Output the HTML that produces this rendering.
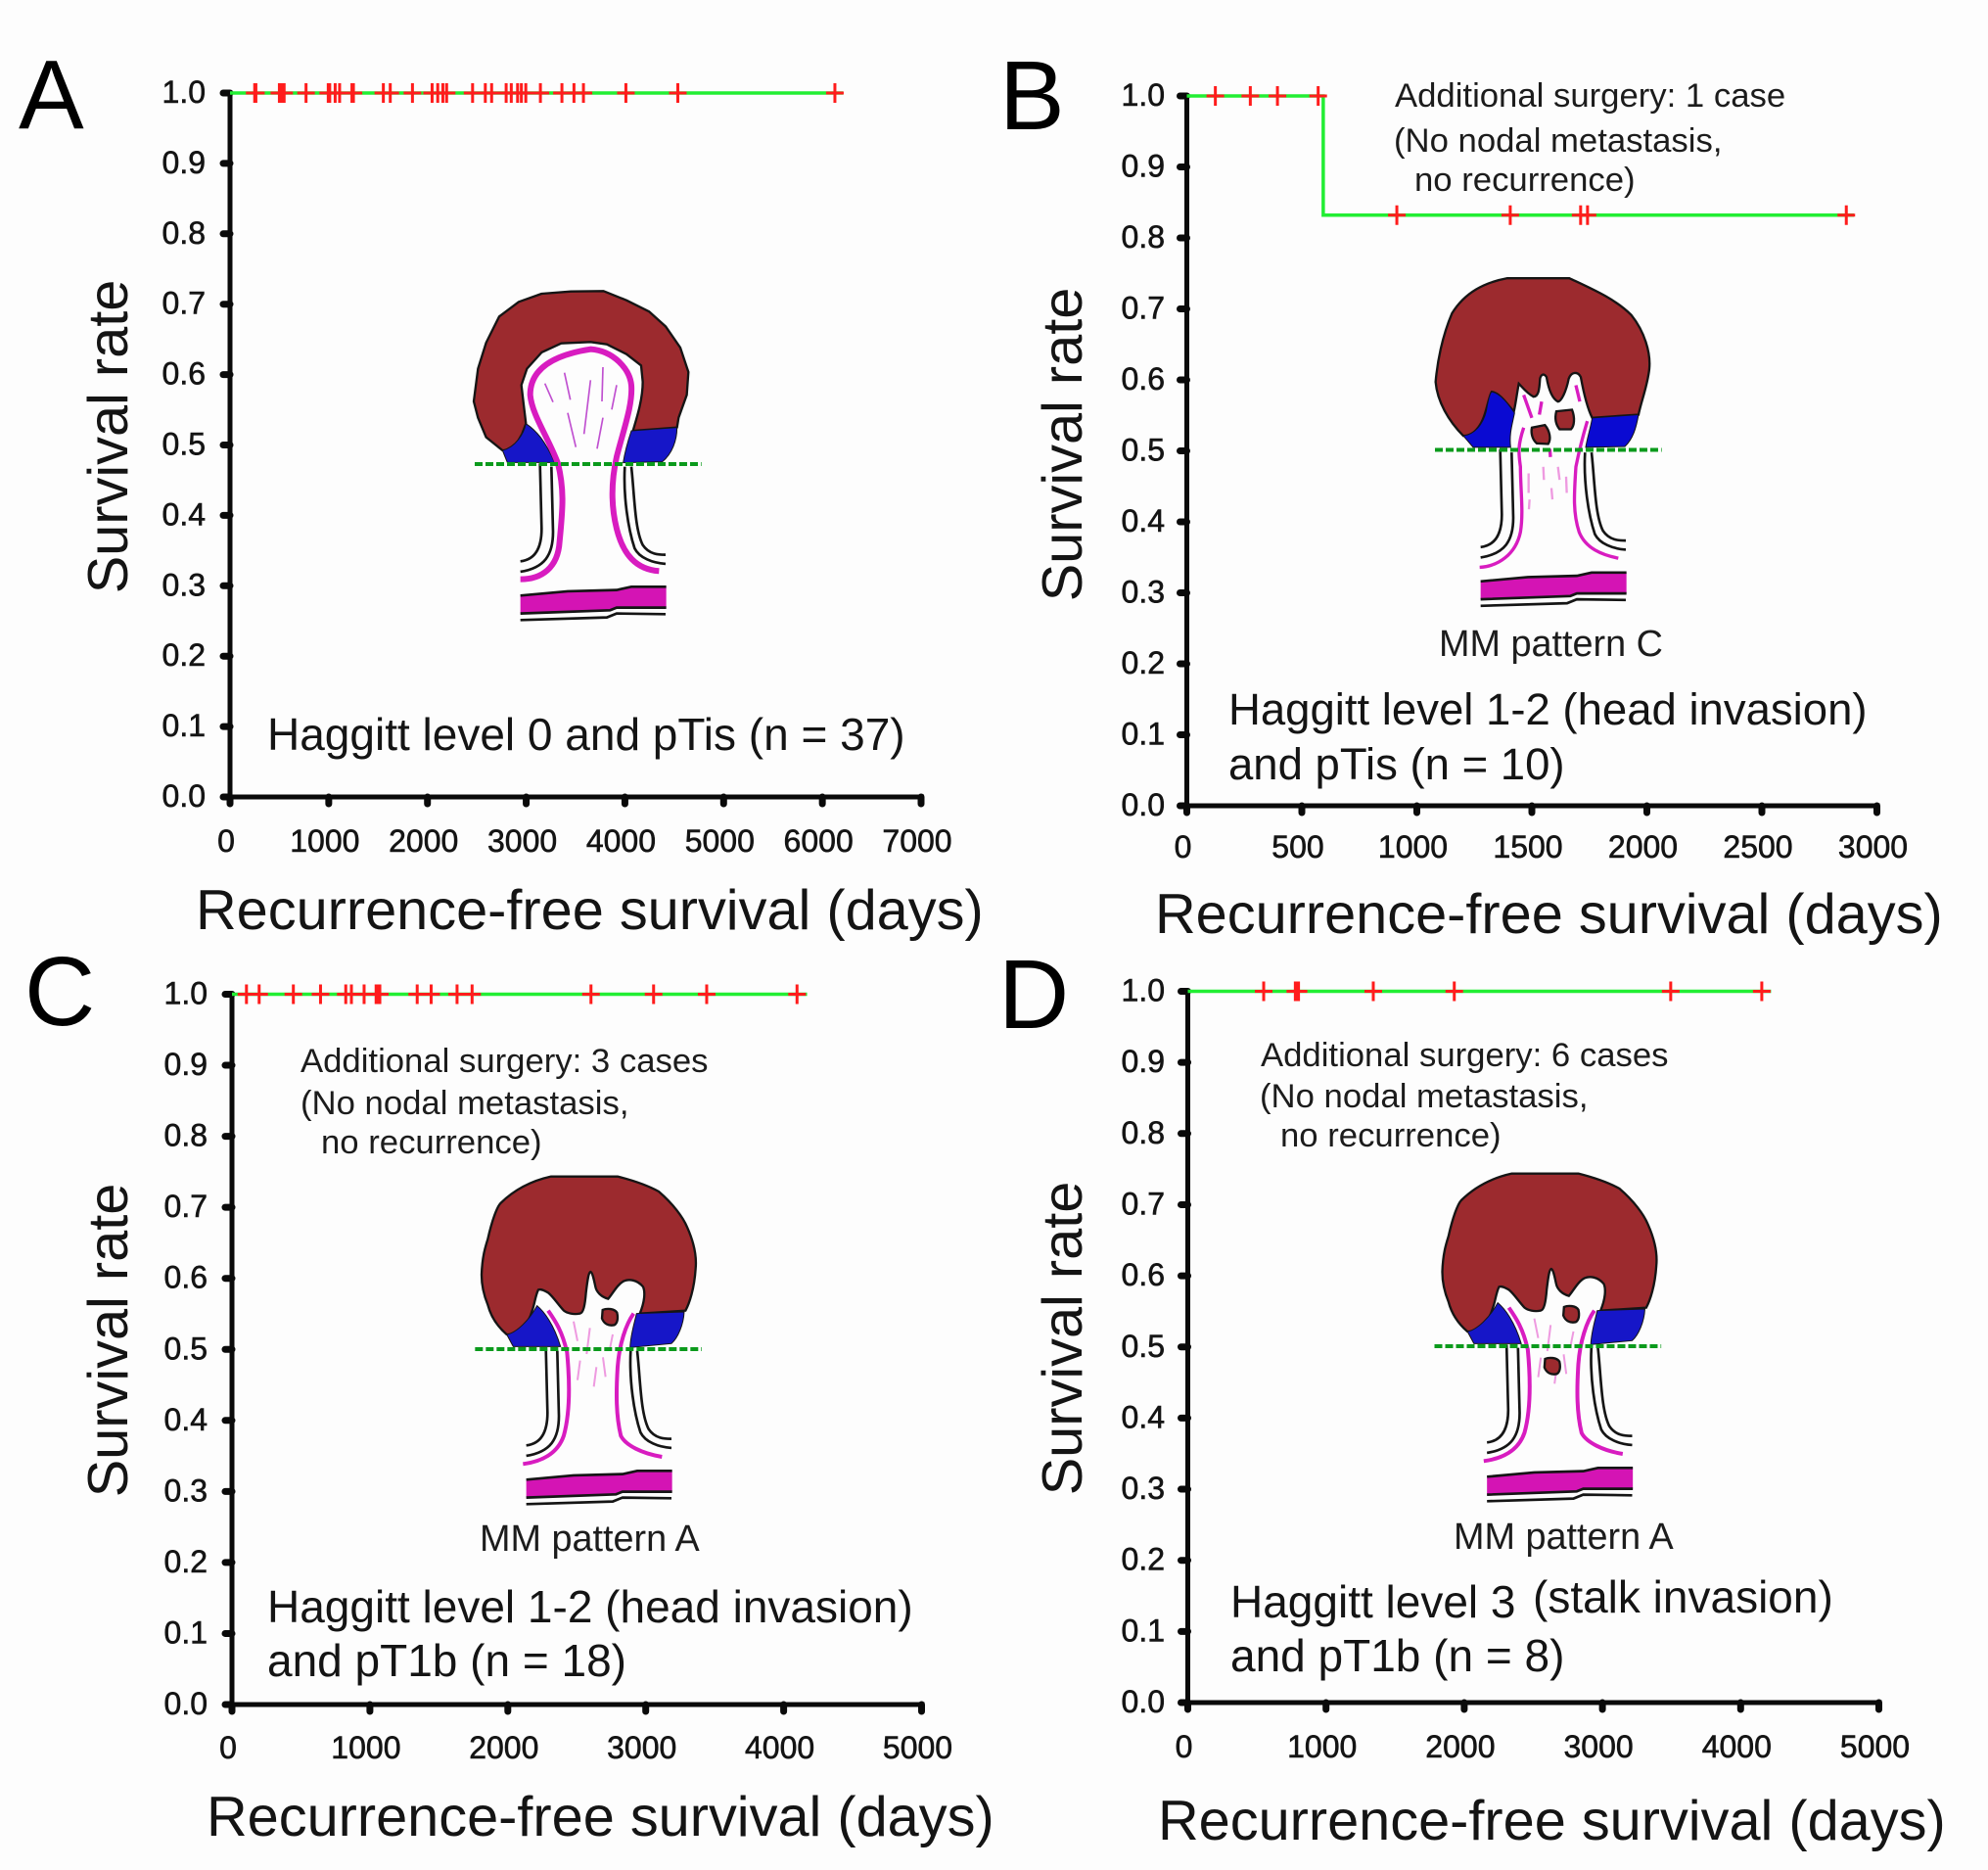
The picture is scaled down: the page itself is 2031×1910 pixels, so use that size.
<!DOCTYPE html>
<html lang="en">
<head>
<meta charset="utf-8">
<title>Recurrence-free survival by Haggitt level</title>
<style>
html,body{margin:0;padding:0;background:#fdfdfd;}
svg{display:block;}
text{font-family:"Liberation Sans",Arial,sans-serif;fill:#141414;}
.letter{font-size:100px;fill:#000;}
.title{font-size:57.7px;}
.note{font-size:46px;}
.note-b{font-size:45.5px;}
.small{font-size:34.7px;fill:#1c1c1c;}
.mm{font-size:37.8px;fill:#1c1c1c;}
.tick{font-size:32px;stroke:#141414;stroke-width:.6px;}
</style>
</head>
<body>
<svg id="figure" xmlns="http://www.w3.org/2000/svg" width="2031" height="1910" viewBox="0 0 2031 1910">
<defs>
  <g id="stalk-base">
    <g fill="none" stroke="#151515" stroke-width="8">
      <path d="M215 880 C260 875,280 840,280 780 L275 580"/>
      <path d="M215 912 C290 900,315 860,315 790 L310 590"/>
      <path d="M535 590 C530 680,545 780,565 840 C580 870,620 885,660 888"/>
      <path d="M555 590 C565 680,565 780,590 830 C610 860,640 860,660 860"/>
      <path d="M215 1060 L480 1052 L510 1040 L660 1042"/>
    </g>
    <path d="M215 985 L360 972 L510 968 L555 958 L662 958 L662 1022 L510 1022 L490 1030 L215 1040 Z" fill="#d414b4" stroke="none"/>
    <path d="M215 985 L360 972 L510 968 L555 958 L662 958 M662 1022 L510 1022 L490 1030 L215 1040" fill="none" stroke="#151515" stroke-width="8"/>
  </g>
  <path id="green-cut" d="M75 582 L770 582" fill="none" stroke="#0b9a1c" stroke-width="12" stroke-dasharray="24 9"/>
  <g id="notched-head">
    <path d="M78 357 C80 300,90 270,97 248 C110 190,125 150,136 138 C190 85,250 65,291 56 L495 56 C550 70,590 85,621 102 C665 140,695 180,708 211 C730 260,738 300,734 339 C730 400,715 445,703 467 L563 476 C578 440,580 410,573 394 C555 372,530 370,515 376 C495 385,480 415,466 431 C445 425,430 410,427 394 C422 370,418 350,412 348 C405 350,402 380,398 412 C395 450,390 475,379 476 C360 480,340 475,330 467 C310 445,298 425,282 412 C270 405,260 400,252 403 C243 420,240 450,233 467 C225 495,215 510,204 522 C190 535,170 542,155 540 C120 510,105 480,97 449 C85 420,78 390,78 357 Z" fill="#9c2a2e" stroke="#151515" stroke-width="7"/>
    <path d="M155 540 C185 535,225 495,248 452 C270 470,300 510,320 577 L175 577 Z" fill="#1616c8" stroke="#151515" stroke-width="3"/>
    <path d="M553 476 L699 471 C697 510,680 550,660 568 L533 580 C535 540,545 510,553 476 Z" fill="#1616c8" stroke="#151515" stroke-width="3"/>
    <g fill="none" stroke="#d81cc0" stroke-width="12">
      <path d="M205 937 C260 930,311 906,330 850 C350 778,348 680,340 595 C325 530,305 500,282 467"/>
      <path d="M631 915 C570 905,520 880,505 851 C490 790,490 720,495 640 C500 570,520 510,544 476"/>
    </g>
    <g fill="none" stroke="#ee9ae0" stroke-width="6">
      <path d="M360 500 L372 560"/><path d="M410 520 L400 600"/><path d="M450 610 L458 670"/>
      <path d="M380 620 L372 680"/><path d="M430 640 L422 700"/><path d="M480 540 L470 590"/>
    </g>
  </g>
  <path id="island" d="M-22 -20 C-8 -26,14 -24,22 -12 C26 4,24 20,14 26 C-4 30,-18 22,-24 6 Z" fill="#9c2a2e" stroke="#151515" stroke-width="7"/>
</defs>

<rect width="2031" height="1910" fill="#fdfdfd"/>

<!-- panel letters -->
<text class="letter" x="19" y="131">A</text>
<text class="letter" x="1021" y="132">B</text>
<text class="letter" x="25" y="1047">C</text>
<text class="letter" x="1020" y="1050">D</text>

<!-- polyp diagrams -->
<g transform="translate(460 280) scale(.3333)">
  <path d="M72 390 L85 290 L110 210 L150 130 L210 85 L280 60 L370 53 L470 52 L540 80 L610 115 L660 160 L705 225 L730 300 L725 370 L700 440 L695 470 L560 480 C575 430,590 380,590 330 L585 280 L540 245 L480 215 L430 208 L340 212 L280 240 L235 290 L218 340 L225 400 L232 458 L220 490 L200 525 L170 540 L160 540 L110 500 L85 440 Z" fill="#9c2a2e" stroke="#151515" stroke-width="7" stroke-linejoin="round"/>
  <path d="M160 540 C200 530,225 490,232 458 C265 480,290 510,320 577 L175 577 Z" fill="#1616c8" stroke="#151515" stroke-width="3"/>
  <path d="M555 480 L695 470 C695 510,680 550,650 575 L530 578 C535 545,545 510,555 480 Z" fill="#1616c8" stroke="#151515" stroke-width="3"/>
  <use href="#stalk-base"/>
  <path d="M215 935 C280 935,330 900,335 820 C345 720,350 660,330 580 C300 500,250 430,245 370 C245 300,300 250,430 230 C500 235,550 290,555 340 C560 400,530 480,510 560 C490 650,495 720,510 780 C530 860,570 905,640 910" fill="none" stroke="#d81cc0" stroke-width="18"/>
  <g fill="none" stroke="#c050d0" stroke-width="5">
    <path d="M290 335 L315 392"/><path d="M350 302 L368 385"/><path d="M430 325 L410 490"/>
    <path d="M468 285 L465 390"/><path d="M510 340 L495 415"/><path d="M360 425 L385 530"/><path d="M468 440 L450 535"/>
  </g>
  <use href="#green-cut"/>
</g>

<g transform="translate(1441 265.5) scale(.3333)">
  <g transform="translate(27 14)">
    <path d="M50 360 C55 300,70 220,100 150 C140 85,200 55,270 42 L460 42 C530 75,600 105,650 155 C690 205,710 270,705 320 C700 370,680 420,672 460 L530 470 C515 440,505 400,495 345 C485 325,465 330,458 350 C450 390,435 420,425 420 C405 410,395 375,390 345 C380 330,372 340,370 350 C368 385,365 405,350 405 C330 395,315 375,305 365 C300 390,295 430,290 450 C270 430,250 395,222 390 C210 410,205 470,180 500 C165 520,150 525,135 525 C90 480,55 420,50 360 Z" fill="#9c2a2e" stroke="#151515" stroke-width="7"/>
    <path d="M135 525 C170 520,195 490,205 450 C210 420,215 395,222 390 C250 395,275 430,292 455 C285 490,275 520,280 560 L165 560 Z" fill="#0a0ad2" stroke="#151515" stroke-width="3"/>
    <path d="M530 470 L672 460 C665 500,655 535,630 558 L510 560 C515 530,525 500,530 470 Z" fill="#0a0ad2" stroke="#151515" stroke-width="3"/>
    <path d="M345 500 L385 492 C400 510,405 535,395 550 L360 548 C345 535,342 515,345 500 Z" fill="#9c2a2e" stroke="#151515" stroke-width="7"/>
    <path d="M420 450 L468 445 C478 470,475 495,465 505 L430 505 C418 490,415 470,420 450 Z" fill="#9c2a2e" stroke="#151515" stroke-width="7"/>
    <g fill="none" stroke="#d81cc0" stroke-width="10">
      <path d="M185 928 C240 925,295 890,310 820 C320 760,310 690,310 620 C305 580,300 560,320 500"/>
      <path d="M610 900 C560 890,510 870,490 820 C470 760,475 700,480 620 C490 570,500 530,515 480"/>
      <path d="M320 400 L345 470"/><path d="M375 420 L368 460"/><path d="M480 370 L492 420"/><path d="M400 565 L402 590"/>
    </g>
    <g fill="none" stroke="#ee9ae0" stroke-width="7">
      <path d="M335 640 L335 700"/><path d="M380 620 L382 660"/><path d="M425 620 L430 660"/><path d="M405 685 L408 720"/><path d="M450 650 L452 700"/><path d="M338 720 L336 750"/>
    </g>
  </g>
  <use href="#stalk-base"/>
  <use href="#green-cut"/>
</g>

<g transform="translate(466 1183) scale(.3333)">
  <use href="#notched-head"/>
  <use href="#stalk-base"/>
  <use href="#island" x="471" y="485"/>
  <use href="#green-cut" x="-17" y="3"/>
</g>

<g transform="translate(1447.5 1180) scale(.3333)">
  <use href="#notched-head"/>
  <use href="#stalk-base"/>
  <use href="#island" x="473" y="485"/>
  <use href="#island" x="415" y="644"/>
  <use href="#green-cut" x="-21" y="3"/>
</g>

<!-- annotations A -->
<text class="note" x="273" y="766">Haggitt level 0 and pTis (n = 37)</text>
<!-- annotations B -->
<text class="small" x="1425" y="109">Additional surgery: 1 case</text>
<text class="small" x="1424" y="155">(No nodal metastasis,</text>
<text class="small" x="1445" y="195">no recurrence)</text>
<text class="mm" x="1470" y="670">MM pattern C</text>
<text class="note-b" x="1255" y="740">Haggitt level 1-2 (head invasion)</text>
<text class="note-b" x="1255" y="796">and pTis (n = 10)</text>
<!-- annotations C -->
<text class="small" x="307" y="1095">Additional surgery: 3 cases</text>
<text class="small" x="307" y="1138">(No nodal metastasis,</text>
<text class="small" x="328" y="1178">no recurrence)</text>
<text class="mm" x="490" y="1584">MM pattern A</text>
<text class="note" x="273" y="1657">Haggitt level 1-2 (head invasion)</text>
<text class="note" x="273" y="1712">and pT1b (n = 18)</text>
<!-- annotations D -->
<text class="small" x="1288" y="1089">Additional surgery: 6 cases</text>
<text class="small" x="1287" y="1131">(No nodal metastasis,</text>
<text class="small" x="1308" y="1171">no recurrence)</text>
<text class="mm" x="1485" y="1582">MM pattern A</text>
<text class="note" x="1257" y="1652">Haggitt level 3</text>
<text class="note" x="1566" y="1647">(stalk invasion)</text>
<text class="note" x="1257" y="1707">and pT1b (n = 8)</text>

<!-- axis titles -->
<text class="title" text-anchor="middle" transform="translate(130 446) rotate(-90)">Survival rate</text>
<text class="title" x="200" y="949">Recurrence-free survival (days)</text>
<text class="title" text-anchor="middle" transform="translate(1105 454) rotate(-90)">Survival rate</text>
<text class="title" x="1180" y="953">Recurrence-free survival (days)</text>
<text class="title" text-anchor="middle" transform="translate(130 1369) rotate(-90)">Survival rate</text>
<text class="title" x="211" y="1875">Recurrence-free survival (days)</text>
<text class="title" text-anchor="middle" transform="translate(1105 1367) rotate(-90)">Survival rate</text>
<text class="title" x="1183" y="1879">Recurrence-free survival (days)</text>

<g id="charts"></g>
</svg>

<script>
const yTickValues = [0, 0.1, 0.2, 0.3, 0.4, 0.5, 0.6, 0.7, 0.8, 0.9, 1.0];
const yTickLabels = ["0.0", "0.1", "0.2", "0.3", "0.4", "0.5", "0.6", "0.7", "0.8", "0.9", "1.0"];

const panelAXTicks = [0, 1000, 2000, 3000, 4000, 5000, 6000, 7000];
const panelAStepDays = [0];
const panelAStepSurvival = [1.0];
const panelALastDay = 6210;
const panelACensorDays = [250, 262, 500, 512, 535, 548, 770, 995, 1010, 1065, 1110, 1235, 1250, 1553, 1623, 1848, 2047, 2104, 2156, 2194, 2457, 2586, 2650, 2797, 2849, 2913, 2951, 2996, 3144, 3362, 3484, 3580, 4010, 4536, 6127];

const panelBXTicks = [0, 500, 1000, 1500, 2000, 2500, 3000];
const panelBStepDays = [0, 593];
const panelBStepSurvival = [1.0, 0.832];
const panelBLastDay = 2900;
const panelBCensorDays = [124, 276, 394, 571, 913, 1406, 1712, 1742, 2867];

const panelCXTicks = [0, 1000, 2000, 3000, 4000, 5000];
const panelCStepDays = [0];
const panelCStepSurvival = [1.0];
const panelCLastDay = 4170;
const panelCCensorDays = [105, 197, 445, 642, 825, 866, 958, 1045, 1060, 1072, 1343, 1444, 1632, 1741, 2603, 3057, 3442, 4097];

const panelDXTicks = [0, 1000, 2000, 3000, 4000, 5000];
const panelDStepDays = [0];
const panelDStepSurvival = [1.0];
const panelDLastDay = 4220;
const panelDCensorDays = [549, 778, 790, 801, 1342, 1928, 3494, 4153];

const SVGNS = 'http://www.w3.org/2000/svg';
const chartsRoot = document.getElementById('charts');

function make(tag, attrs, parent) {
  const el = document.createElementNS(SVGNS, tag);
  for (const k in attrs) el.setAttribute(k, attrs[k]);
  parent.appendChild(el);
  return el;
}

function survivalAt(day, stepDays, stepSurvival) {
  let s = stepSurvival[0];
  for (let i = 0; i < stepDays.length; i++) {
    if (day >= stepDays[i]) s = stepSurvival[i];
  }
  return s;
}

function drawPanel(key, box, xTicks, stepDays, stepSurvival, lastDay, censorDays) {
  const xMax = xTicks[xTicks.length - 1];
  const xScale = function (d) { return box.x0 + (d / xMax) * (box.x1 - box.x0); };
  const yScale = function (v) { return box.y0 + v * (box.y1 - box.y0); };
  const g = make('g', {}, chartsRoot);
  
  

  const yAxis = make('line', { x1: xScale(0), x2: xScale(0), y1: yScale(1), y2: yScale(0), stroke: '#0a0a0a', 'stroke-width': 5 }, g);
  
  
  const xAxis = make('line', { x1: xScale(0) - 3, x2: xScale(xMax) + 3, y1: yScale(0), y2: yScale(0), stroke: '#0a0a0a', 'stroke-width': 5 }, g);
  
  

  yTickValues.forEach(function (v, i) {
    const tick = make('line', { x1: xScale(0) - 7, x2: xScale(0), y1: yScale(v), y2: yScale(v), stroke: '#0a0a0a', 'stroke-width': 7, 'stroke-linecap': 'round' }, g);
    
    
    const lab = make('text', { x: box.yLabelX, y: yScale(v) + 10, 'text-anchor': 'end', class: 'tick' }, g);
    
    
    lab.textContent = yTickLabels[i];
  });

  xTicks.forEach(function (t) {
    const tick = make('line', { x1: xScale(t), x2: xScale(t), y1: yScale(0), y2: yScale(0) + 7, stroke: '#0a0a0a', 'stroke-width': 7, 'stroke-linecap': 'round' }, g);
    
    
    const lab = make('text', { x: xScale(t) - 4, y: box.xLabelY, 'text-anchor': 'middle', class: 'tick' }, g);
    
    
    lab.textContent = String(t);
  });

  let pts = [];
  stepDays.forEach(function (d, i) {
    if (i > 0) pts.push(xScale(d) + ',' + yScale(stepSurvival[i - 1]));
    pts.push(xScale(d) + ',' + yScale(stepSurvival[i]));
  });
  pts.push(xScale(lastDay) + ',' + yScale(stepSurvival[stepSurvival.length - 1]));
  const curve = make('polyline', { points: pts.join(' '), fill: 'none', stroke: '#22ee33', 'stroke-width': 3.5 }, g);
  
  

  censorDays.forEach(function (d) {
    const cx = xScale(d);
    const cy = yScale(survivalAt(d, stepDays, stepSurvival));
    const mark = make('path', { d: 'M' + (cx - 9) + ' ' + cy + 'H' + (cx + 9) + 'M' + cx + ' ' + (cy - 10) + 'V' + (cy + 10), fill: 'none', stroke: '#ff1c1c', 'stroke-width': 3 }, g);
    
    
  });
}

drawPanel('a', { x0: 235, x1: 941, y0: 814, y1: 95, yLabelX: 210, xLabelY: 870 }, panelAXTicks, panelAStepDays, panelAStepSurvival, panelALastDay, panelACensorDays);
drawPanel('b', { x0: 1212.5, x1: 1917.5, y0: 823, y1: 98, yLabelX: 1190, xLabelY: 876 }, panelBXTicks, panelBStepDays, panelBStepSurvival, panelBLastDay, panelBCensorDays);
drawPanel('c', { x0: 237, x1: 941.5, y0: 1741, y1: 1015.5, yLabelX: 212, xLabelY: 1796 }, panelCXTicks, panelCStepDays, panelCStepSurvival, panelCLastDay, panelCCensorDays);
drawPanel('d', { x0: 1213.5, x1: 1919.5, y0: 1739, y1: 1012.5, yLabelX: 1190, xLabelY: 1795 }, panelDXTicks, panelDStepDays, panelDStepSurvival, panelDLastDay, panelDCensorDays);
</script>
</body>
</html>
